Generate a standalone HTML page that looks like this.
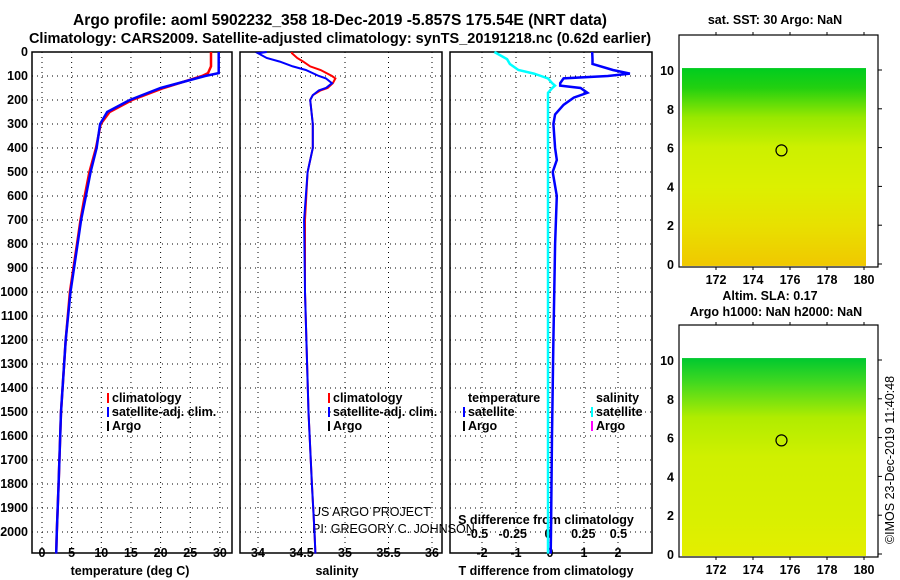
<!DOCTYPE html>
<html><head><meta charset="utf-8"><style>
body{margin:0;background:#fff}
svg{display:block;font-family:"Liberation Sans",sans-serif}
.t{font-weight:bold}
.k{font-weight:bold;font-size:12.5px}
</style></head><body>
<svg id="c" width="900" height="580" viewBox="0 0 900 580">
<text class="t" x="340" y="25" text-anchor="middle" font-size="15.6">Argo profile: aoml 5902232_358 18-Dec-2019 -5.857S 175.54E (NRT data)</text>
<text class="t" x="340" y="43" text-anchor="middle" font-size="14.5">Climatology: CARS2009. Satellite-adjusted climatology: synTS_20191218.nc (0.62d earlier)</text>
<g id="g"></g>
</svg>
<script>
// depth ticks
const depthTicks=[0,100,200,300,400,500,600,700,800,900,1000,1100,1200,1300,1400,1500,1600,1700,1800,1900,2000];
// temperature profiles
const tDepth=[0,60,88,100,150,200,250,300,400,500,600,700,800,1000,1200,1500,1800,2000,2090];
const tClim=[28.5,28.5,28.0,27.0,20.5,15.2,11.4,9.9,9.1,8.0,7.2,6.5,5.9,4.7,4.0,3.2,2.8,2.5,2.4];
const tSat=[29.8,29.8,29.8,27.5,20.0,14.8,11.0,9.8,9.2,8.2,7.4,6.6,6.0,4.8,4.0,3.2,2.8,2.5,2.4];
const tTicks=[0,5,10,15,20,25,30];
// salinity profiles
const sDepth=[0,5,25,40,60,75,100,110,130,150,160,180,200,300,400,500,700,1000,1500,1800,2000,2090];
const sClim=[34.39,34.39,34.45,34.52,34.6,34.72,34.85,34.89,34.86,34.8,34.72,34.63,34.6,34.63,34.63,34.57,34.54,34.54,34.58,34.62,34.65,34.66];
const sSat=[34.1,34.0,34.1,34.25,34.4,34.55,34.7,34.78,34.85,34.78,34.7,34.63,34.6,34.63,34.63,34.57,34.53,34.54,34.58,34.62,34.65,34.66];
const sTicks=[34,34.5,35,35.5,36];
// differences
const dDepth=[0,30,50,75,90,100,110,130,140,150,170,190,220,260,300,400,450,500,600,800,1200,1600,2000,2090];
const dT=[1.24,1.25,1.25,1.85,2.35,1.7,0.4,0.3,0.3,0.9,1.1,0.7,0.4,0.15,0.1,0.15,0.2,0.08,0.2,0.15,0.1,0.06,0.03,0.02];
const dS=[-0.38,-0.29,-0.27,-0.21,-0.1,-0.05,0,0.03,0.05,0.03,0,0,0,0,0,0,0,0,0,0,0,0,0,0];
const dTTicks=[-2,-1,0,1,2];
const dSTicks=[-0.5,-0.25,0,0.25,0.5];
const NS='http://www.w3.org/2000/svg';
const G=document.getElementById('g');
function mk(tag,at,par){const e=document.createElementNS(NS,tag);for(const k in at)e.setAttribute(k,at[k]);(par||G).appendChild(e);return e;}
const yTop=52,yBot=553;
const Y=d=>yTop+d*0.24;
const panels=[{x0:32,x1:232,f:v=>42+v*5.93},{x0:240,x1:442,f:v=>258+(v-34)*87},{x0:450,x1:652,f:v=>550+v*34}];
const fS=v=>548+v*141;
function grid(p,ticks,name){
  depthTicks.forEach(d=>{const l=mk('line',{x1:p.x0,x2:p.x1,y1:Y(d),y2:Y(d),stroke:'#000','stroke-dasharray':'1 4','stroke-width':1});
  
  });
  ticks.forEach(v=>{const l=mk('line',{x1:p.f(v),x2:p.f(v),y1:yTop,y2:yBot,stroke:'#000','stroke-dasharray':'1 4','stroke-width':1});
  
  });
  const r=mk('rect',{x:p.x0,y:yTop,width:p.x1-p.x0,height:yBot-yTop,fill:'none',stroke:'#000','stroke-width':1.5});
  
  
}
function line(xs,ds,f,col,w,name){
  const pts=xs.map((v,i)=>f(v).toFixed(1)+','+Y(ds[i]).toFixed(1)).join(' ');
  const l=mk('polyline',{points:pts,fill:'none',stroke:col,'stroke-width':w});
  
  
}
function txt(x,y,s,cls,anchor,name,extra){const t=mk('text',Object.assign({x:x,y:y,class:cls,'text-anchor':anchor||'start'},extra||{}));t.textContent=s;
  
  return t;}
grid(panels[0],tTicks,'temp');grid(panels[1],sTicks,'sal');grid(panels[2],dTTicks,'diff');
depthTicks.forEach(d=>txt(28,Y(d)+4,String(d),'k','end','depth-tick-label'));
tTicks.forEach(v=>txt(panels[0].f(v),557,String(v),'k','middle','temp-tick-label'));
sTicks.forEach(v=>txt(panels[1].f(v),557,String(v),'k','middle','sal-tick-label'));
dTTicks.forEach(v=>txt(panels[2].f(v),557,String(v),'k','middle','tdiff-tick-label'));
dSTicks.forEach(v=>txt(fS(v),538,String(v),'k','middle','sdiff-tick-label'));
txt(130,575,'temperature (deg C)','k','middle','x-axis-title-temp');
txt(337,575,'salinity','k','middle','x-axis-title-sal');
txt(546,575,'T difference from climatology','k','middle','x-axis-title-tdiff');
txt(546,524,'S difference from climatology','k','middle','x-axis-title-sdiff');
txt(312,516,'US ARGO PROJECT','','start','credit-line-1',{'font-size':'12.5'});
txt(312,533,'PI: GREGORY C. JOHNSON','','start','credit-line-2',{'font-size':'12.5'});
line(tClim,tDepth,panels[0].f,'#f00',2.5,'temp-clim-line');
line(tSat,tDepth,panels[0].f,'#00f',2.5,'temp-sat-line');
line(sClim,sDepth,panels[1].f,'#f00',2,'sal-clim-line');
line(sSat,sDepth,panels[1].f,'#00f',2,'sal-sat-line');
line(dS,dDepth,fS,'#0ff',2.5,'sdiff-sat-line');
line(dT,dDepth,panels[2].f,'#00f',2.5,'tdiff-sat-line');
function leg(x,y,col,s,name){const l=mk('line',{x1:x,x2:x,y1:y-9,y2:y+1,stroke:col,'stroke-width':2});
  
  
  txt(x+4,y,s,'k','start',name);}
leg(108,402,'#f00','climatology','legend-temp-clim');leg(108,416,'#00f','satellite-adj. clim.','legend-temp-sat');leg(108,430,'#000','Argo','legend-temp-argo');
leg(329,402,'#f00','climatology','legend-sal-clim');leg(329,416,'#00f','satellite-adj. clim.','legend-sal-sat');leg(329,430,'#000','Argo','legend-sal-argo');
txt(468,402,'temperature','k','start','legend-temp-header');
leg(464,416,'#00f','satellite','legend-tdiff-sat');leg(464,430,'#000','Argo','legend-tdiff-argo');
txt(596,402,'salinity','k','start','legend-sal-header');
leg(592,416,'#0ff','satellite','legend-sdiff-sat');leg(592,430,'#f0f','Argo','legend-sdiff-argo');
// maps
const lonTicks=[172,174,176,178,180];const latTicks=[0,2,4,6,8,10];
const defs=mk('defs',{});
function map(y0,name,cols){
  const X=l=>716+(l-172)*18.5, Yl=v=>y0+70+(10-v)*19.4;
  const id='gr'+name;
  const lg=mk('linearGradient',{id:id,x1:0,y1:0,x2:0,y2:1},defs);
  cols.forEach(c=>mk('stop',{offset:c[0],'stop-color':c[1]},lg));
  const r=mk('rect',{x:682,y:Yl(10.1),width:184,height:Yl(-0.1)-Yl(10.1),fill:'url(#'+id+')'});
  
  
  const f=mk('rect',{x:679,y:y0+35,width:199,height:232,fill:'none',stroke:'#000','stroke-width':1.2});
  
  
  lonTicks.forEach(l=>{txt(X(l),y0+284,String(l),'k','middle',name+'-lon-label');
    mk('line',{x1:X(l),x2:X(l),y1:y0+35,y2:y0+32,stroke:'#000'});mk('line',{x1:X(l),x2:X(l),y1:y0+267,y2:y0+270,stroke:'#000'});});
  latTicks.forEach(v=>{txt(674,Yl(v)+5,String(v),'k','end',name+'-lat-label');
    mk('line',{x1:878,x2:882,y1:Yl(v),y2:Yl(v),stroke:'#000'});});
  const c=mk('circle',{cx:X(175.54),cy:Yl(5.857),r:5.5,fill:'none',stroke:'#000','stroke-width':1.2});
  
  
}
map(0,'sst-map',[[0,'#00cc20'],[0.1,'#22d010'],[0.25,'#99e800'],[0.4,'#ccf000'],[0.6,'#dcf000'],[0.8,'#e8e000'],[1,'#f0c800']]);
map(290,'sla-map',[[0,'#00c830'],[0.12,'#40d820'],[0.3,'#b0ec00'],[0.5,'#d0f000'],[0.8,'#d8f000'],[1,'#e4ee00']]);
txt(775,24,'sat. SST: 30 Argo: NaN','k','middle','sst-map-title');
txt(770,300,'Altim. SLA: 0.17','k','middle','sla-map-title');
txt(776,316,'Argo h1000: NaN h2000: NaN','k','middle','sla-map-subtitle');
txt(0,0,'©IMOS 23-Dec-2019 11:40:48','','middle','timestamp',{'font-size':'12.5',transform:'translate(894,460) rotate(-90)'});
</script>
</body></html>
